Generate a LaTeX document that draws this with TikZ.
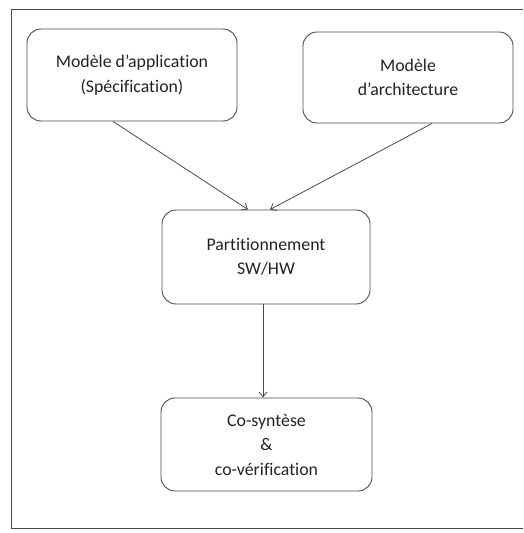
\documentclass[tikz,border=0pt]{standalone}
\usepackage{fontspec}
\setmainfont{Carlito}[Ligatures={NoCommon}]
\usetikzlibrary{arrows.meta}
\definecolor{ink}{HTML}{222222}
\definecolor{edge}{HTML}{4A4A4A}
\begin{document}
\begin{tikzpicture}[x=1pt,y=-1pt,
  stage/.style={draw=edge, line width=0.9pt, rounded corners=14pt,
    minimum width=#1, inner sep=0pt, align=center, text=ink,
    font=\fontsize{17.8}{24.5}\selectfont},
  stage/.default=210pt,
  link/.style={draw=edge, line width=0.8pt,
    -{Straight Barb[length=5pt,width=8pt,line width=0.8pt]}}]
  \useasboundingbox (0,0) rectangle (523,533);
  % outer frame
  \draw[edge, line width=0.9pt] (523,9) -- (11,9) -- (11,528) -- (523,528);
  % stages
  \node[stage, minimum height=92pt] (app)  at (132,75)   {Modèle d’application\\(Spécification)};
  \node[stage, minimum height=91pt] (arch) at (408,77.5) {Modèle\\d’architecture};
  \node[stage=208pt, minimum height=94pt] (part) at (266,257) {Partitionnement\\SW/HW};
  \node[stage=211pt, minimum height=93pt] (cosyn) at (266.5,444.5) {Co-syntèse\\\&\\co-vérification};
  % connectors
  \draw[link] ([xshift=-19pt]app.south) -- ([xshift=-18pt]part.north);
  \draw[link] ([xshift=24pt]arch.south) -- ([xshift=4pt]part.north);
  \draw[link] ([xshift=-3pt]part.south) -- ([xshift=-3.5pt]cosyn.north);
\end{tikzpicture}
\end{document}
